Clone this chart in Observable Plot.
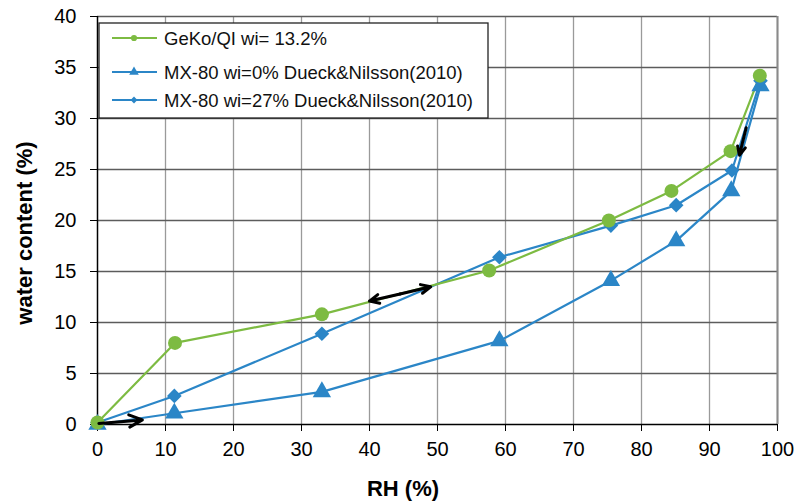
<!DOCTYPE html>
<html>
<head>
<meta charset="utf-8">
<script src="https://cdn.jsdelivr.net/npm/d3@7"></script>
<script src="https://cdn.jsdelivr.net/npm/@observablehq/plot@0.6"></script>
<style>
  html, body { margin: 0; padding: 0; background: #fff; }
  #chart { position: relative; width: 795px; height: 504px; }
  svg { font-family: "Liberation Sans", Arial, sans-serif; }
</style>
</head>
<body>
<div id="chart"></div>
<script>
// ---- data ----
const seriesNames = ["GeKo/QI wi= 13.2%", "MX-80 wi=0% Dueck&Nilsson(2010)", "MX-80 wi=27% Dueck&Nilsson(2010)"];
const seriesColors = ["#7dbb42", "#2b86c7", "#2b86c7"];
const seriesSymbols = ["circle", "triangle", "diamond2"];
const seriesR = [7, 6.8, 6.6];

const rhGeko = [0, 11.4, 33.0, 57.6, 75.2, 84.4, 93.1, 97.4];
const wcGeko = [0.2, 8.0, 10.8, 15.1, 20.0, 22.9, 26.8, 34.2];
const rhMx0 = [0, 11.3, 33.0, 59.1, 75.5, 85.1, 93.2, 97.5];
const wcMx0 = [0, 1.1, 3.2, 8.2, 14.1, 18.0, 22.9, 33.2];
const rhMx27 = [0, 11.3, 33.0, 59.1, 75.5, 85.1, 93.3, 97.5];
const wcMx27 = [0.2, 2.8, 8.9, 16.4, 19.5, 21.5, 24.9, 33.7];

const xTicks = [0, 10, 20, 30, 40, 50, 60, 70, 80, 90, 100];
const yTicks = [0, 5, 10, 15, 20, 25, 30, 35, 40];

// annotation arrows
const arrowX1 = [0.2, 40.0, 95.4];
const arrowY1 = [0.1, 12.1, 29.1];
const arrowX2 = [6.6, 49.0, 94.4];
const arrowY2 = [0.45, 13.5, 26.4];
const arrowDouble = [false, true, false];

// ---- build tables ----
const pts = [];
[[rhGeko, wcGeko], [rhMx0, wcMx0], [rhMx27, wcMx27]].forEach(([xs, ys], s) => {
  xs.forEach((x, i) => pts.push({s, x, y: ys[i]}));
});
const arrows = [];
arrowX1.forEach((x1, i) => {
  const x2 = arrowX2[i], y1 = arrowY1[i], y2 = arrowY2[i];
  if (arrowDouble[i]) {
    const mx = (x1 + x2) / 2, my = (y1 + y2) / 2;
    arrows.push({x1: mx, y1: my, x2: x1, y2: y1});
    arrows.push({x1: mx, y1: my, x2: x2, y2: y2});
  } else {
    arrows.push({x1, y1, x2, y2});
  }
});

const lineMarks = [];
const dotMarks = [];
[1, 2, 0].forEach(s => {
  const d = pts.filter(p => p.s === s);
  lineMarks.push(Plot.line(d, {x: "x", y: "y", stroke: seriesColors[s], strokeWidth: 2.2}));
  dotMarks.push(Plot.dot(d, {x: "x", y: "y", fill: seriesColors[s], stroke: "none", symbol: seriesSymbols[s], r: seriesR[s]}));
});

const plot = Plot.plot({
  width: 795,
  height: 504,
  marginLeft: 97,
  marginRight: 18,
  marginTop: 16,
  marginBottom: 80,
  style: {fontFamily: "Liberation Sans, Arial, sans-serif", background: "#fff"},
  x: {domain: [0, 100]},
  y: {domain: [0, 40]},
  marks: [
    Plot.ruleX(xTicks.filter(t => t > 0), {stroke: "#9a9a9a", strokeWidth: 1.3}),
    Plot.ruleY(yTicks.filter(t => t > 0), {stroke: "#5c5c5c", strokeWidth: 1.3}),
    Plot.ruleX([100], {stroke: "#8a8a8a", strokeWidth: 2}),
    Plot.axisX({ticks: xTicks, tickSize: 7, tickPadding: 10, fontSize: 20, label: null, tickFormat: d => String(d), stroke: "#000"}),
    Plot.axisY({ticks: yTicks, tickSize: 7, tickPadding: 14, fontSize: 20, label: null, tickFormat: d => String(d), stroke: "#000"}),
    Plot.ruleX([0], {stroke: "#000", strokeWidth: 1.5}),
    Plot.ruleY([0], {stroke: "#000", strokeWidth: 1.5}),
    ...lineMarks,
    ...dotMarks,
    Plot.arrow(arrows, {x1: "x1", y1: "y1", x2: "x2", y2: "y2", stroke: "#000", strokeWidth: 3, headLength: 14, headAngle: 50})
  ]
});

const svg = d3.select(plot);
// axis titles
svg.append("text")
  .attr("x", 403).attr("y", 496)
  .attr("text-anchor", "middle")
  .attr("font-size", 22).attr("font-weight", "bold").attr("fill", "#000")
  .text("RH (%)");
svg.append("text")
  .attr("transform", "translate(32,233) rotate(-90)")
  .attr("text-anchor", "middle")
  .attr("font-size", 22).attr("font-weight", "bold").attr("fill", "#000")
  .text("water content (%)");

// legend inside plot area
const lg = svg.append("g").attr("transform", "translate(99,23)");
lg.append("rect").attr("width", 389).attr("height", 95).attr("fill", "#fff").attr("stroke", "#222").attr("stroke-width", 1.3);
const rowsY = [15, 49, 77];
seriesNames.forEach((name, i) => {
  const g = lg.append("g").attr("transform", `translate(0,${rowsY[i]})`);
  g.append("line").attr("x1", 13).attr("x2", 58).attr("y1", 0).attr("y2", 0)
    .attr("stroke", seriesColors[i]).attr("stroke-width", 2);
  const sym = {circle: d3.symbolCircle, triangle: d3.symbolTriangle, diamond2: d3.symbolDiamond2}[seriesSymbols[i]];
  const size = {circle: 30, triangle: 40, diamond2: 30}[seriesSymbols[i]];
  g.append("path").attr("d", d3.symbol(sym, size)()).attr("transform", "translate(35,0)").attr("fill", seriesColors[i]);
  g.append("text").attr("x", 65).attr("y", 6.5).attr("text-anchor", "start")
    .attr("font-size", 18.5).attr("fill", "#111").text(name);
});

document.getElementById("chart").appendChild(plot);
</script>
</body>
</html>
